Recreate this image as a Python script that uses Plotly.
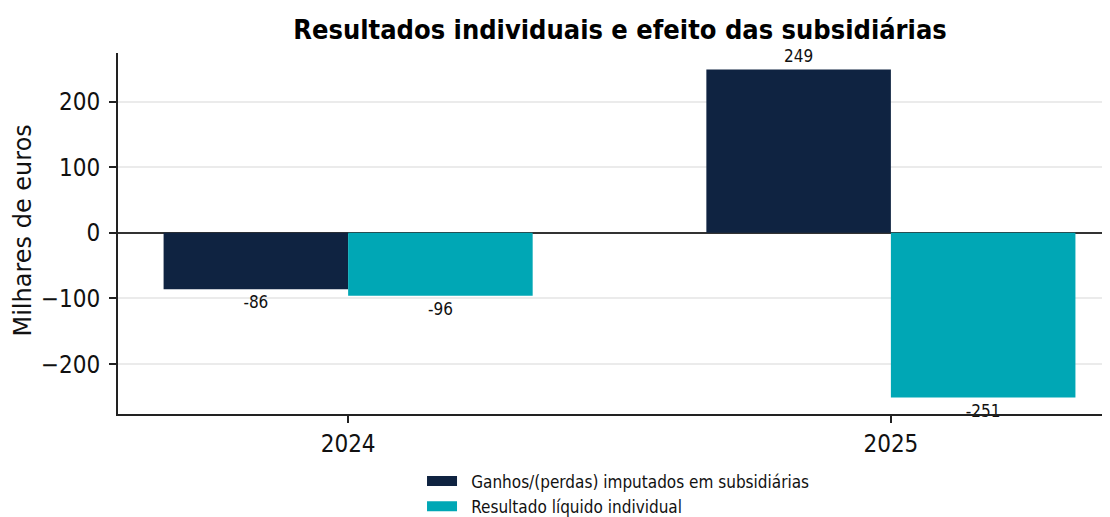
import plotly.graph_objects as go

years = ["2024", "2025"]
ganhos = [-86, 249]
resultado = [-96, -251]
series_names = ["Ganhos/(perdas) imputados em subsidiárias", "Resultado líquido individual"]
colors = ["#0F2341", "#00A7B5"]
yticks = [-200, -100, 0, 100, 200]
y_title = "Milhares de euros"
chart_title = "Resultados individuais e efeito das subsidiárias"

FONT_C = "DejaVu Sans Condensed, DejaVu Sans, sans-serif"
FONT = "DejaVu Sans, sans-serif"

fig = go.Figure()
for name, vals, c in zip(series_names, [ganhos, resultado], colors):
    fig.add_trace(go.Bar(
        x=years, y=vals, name=name, marker=dict(color=c, line=dict(width=0)),
        text=[str(v) for v in vals], textposition="outside",
        textfont=dict(size=17, color="#111", family=FONT_C),
        cliponaxis=False, showlegend=False,
    ))
# legend entries drawn as wide swatches
for name, c in zip(series_names, colors):
    fig.add_trace(go.Scatter(x=[None], y=[None], mode="lines",
                             name="\u2002\u200a" + name,
                             line=dict(color=c, width=12), hoverinfo="skip"))

# page has an 8px body margin, so the figure is 8px smaller than the window
W, H = 1102, 509
fig.update_layout(
    width=W, height=H,
    margin=dict(l=110, r=2, t=45, b=103, autoexpand=False),
    paper_bgcolor="white", plot_bgcolor="white",
    barmode="group", bargap=0.32, bargroupgap=0,
    font=dict(family=FONT, color="#111"),
    title=dict(text="<b>" + chart_title + "</b>",
               xref="container", yref="container",
               x=0.5554, xanchor="center", y=0.957, yanchor="middle",
               font=dict(size=27, family=FONT_C, color="#000")),
    legend=dict(orientation="v", xref="container", yref="container",
                x=0.3757, xanchor="left", y=0.105, yanchor="top",
                font=dict(size=17, family=FONT_C), itemwidth=30,
                tracegroupgap=0, bgcolor="rgba(0,0,0,0)"),
    annotations=[dict(text=y_title, xref="paper", yref="paper", x=0, y=0.5,
                      xanchor="center", yanchor="middle", xshift=-96, yshift=3,
                      textangle=-90, showarrow=False,
                      font=dict(size=24, family=FONT, color="#111"))],
)
fig.update_xaxes(
    type="category", range=[-0.424, 1.40], automargin=False,
    showline=True, linecolor="#222", linewidth=1.5,
    ticks="outside", ticklen=7, tickcolor="#222", tickwidth=1.5,
    tickfont=dict(size=24, family=FONT_C), showgrid=False,
)
fig.update_yaxes(
    range=[-276, 274], tickvals=yticks, automargin=False,
    ticktext=[str(v).replace("-", "\u2212") + "\u2009" for v in yticks],
    showline=True, linecolor="#222", linewidth=1.5,
    ticks="outside", ticklen=7, tickcolor="#222", tickwidth=1.5,
    tickfont=dict(size=24, family=FONT_C),
    showgrid=True, gridcolor="#EBEBEB", gridwidth=1.5,
    zeroline=True, zerolinecolor="#333", zerolinewidth=1.5,
)

fig.write_html("out.html")
